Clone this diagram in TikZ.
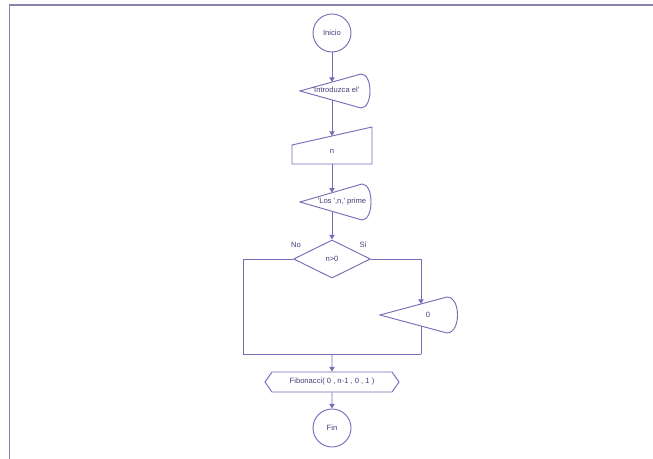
\documentclass[tikz,border=0pt]{standalone}
\usepackage{fontspec}
\setmainfont{Liberation Sans}
\usetikzlibrary{arrows.meta,shapes.geometric,shapes.symbols}
\definecolor{flowline}{HTML}{7A6AB8}
\definecolor{flowtext}{HTML}{4A3C7C}
\definecolor{framecol}{HTML}{8E82AC}
\newcommand{\sq}{\textquotesingle}

\begin{document}
\begin{tikzpicture}[x=0.03cm, y=-0.03cm,
        line/.style={draw=flowline, line width=0.8pt},
        arr/.style={line, -{Triangle[length=4pt,width=4.5pt]}},
        lbl/.style={text=flowtext, font=\fontsize{6.5}{7.5}\selectfont, inner sep=0pt},
        term/.style={line, lbl, circle, minimum size=1.14cm}]
        \useasboundingbox (0,0) rectangle (653,459);
        % Frame round the page
        \draw[draw=framecol, line width=1.6pt] (9.5,459) -- (9.5,5) -- (653,5);

        \node[term] (inicio) at (332,33) {Inicio};

        % Output 'Introduzca el'
        \draw[line] (300,91) -- (361,74) .. controls (373,74) and (373,108) .. (361,108) -- cycle;
        \node[lbl] (intro) at (336,90) {\sq Introduzca el\sq};
        \coordinate (intro-in) at (332,82);
        \coordinate (intro-out) at (332,100);

        % Read n
        \draw[line] (292,145) -- (372,127) -- (372,164) -- (292,164) -- cycle;
        \node[lbl] (leer) at (332,151) {n};
        \coordinate (leer-in) at (332,136);
        \coordinate (leer-out) at (332,164);

        % Output 'Los ',n,' prime
        \draw[line] (300,202) -- (362,184) .. controls (374,184) and (374,220) .. (362,220) -- cycle;
        \node[lbl] (los) at (342,202) {\sq Los \sq,n,\sq\ prime};
        \coordinate (los-in) at (332,192.7);
        \coordinate (los-out) at (332,211.3);

        \draw[arr] (inicio) -- (intro-in);
        \draw[arr] (intro-out) -- (leer-in);
        \draw[arr] (leer-out) -- (los-in);

        % Decision
        \node[line, lbl, diamond, minimum width=2.31cm, minimum height=1.14cm] (cond) at (332,259) {n>0};
        \node[lbl] (no) at (296,245) {No};
        \node[lbl] (si) at (363,245) {Si};
        \draw[arr] (los-out) -- (cond);

        % Output 0 on the Si side
        \draw[line] (380,315) -- (447,297) .. controls (461,297) and (461,333) .. (447,333) -- cycle;
        \node[lbl] (cero) at (428,315) {0};
        \coordinate (cero-in) at (421,304);
        \coordinate (cero-out) at (421,326);

        \coordinate (joinL) at (243,354);
        \coordinate (joinR) at (421,354);
        \coordinate (join) at (332,354);
        \draw[line] (cond.west) -| (joinL) -- (joinR);
        \draw[arr] (cond.east) -| (cero-in);
        \draw[line] (cero-out) -- (joinR);

        % Call and end
        \node[line, lbl, signal, signal to=west and east, signal pointer angle=110,
            minimum width=4.02cm, minimum height=0.6cm] (fibo) at (332,382) {Fibonacci( 0 , n-1 , 0 , 1 )};
        \node[term] (fin) at (332,428) {Fin};
        \draw[arr] (join) -- (fibo);
        \draw[arr] (fibo) -- (fin);
\end{tikzpicture}
\end{document}
